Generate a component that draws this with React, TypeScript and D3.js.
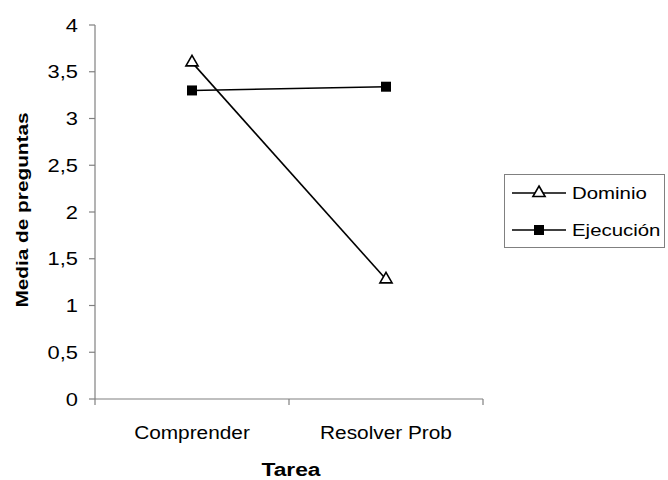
import React, { useEffect, useRef } from 'react';
import * as d3 from 'd3';

const categories = ['Comprender', 'Resolver Prob'];
const dominio = [3.6, 1.28];
const ejecucion = [3.3, 3.34];
const yTicks = [0, 0.5, 1, 1.5, 2, 2.5, 3, 3.5, 4];

const W = 668;
const H = 480;
const FONT = '"Liberation Sans", Arial, sans-serif';

const App: React.FC = () => {
  const svgRef = useRef<SVGSVGElement>(null);

  useEffect(() => {
    if (!svgRef.current) return;
    const svg = d3.select(svgRef.current);
    svg.selectAll('*').remove();

    const x = d3.scaleBand().domain(categories).range([95, 483]);
    const y = d3.scaleLinear().domain([0, 4]).range([399, 25]);
    const cx = (c: string) => (x(c) as number) + x.bandwidth() / 2;
    const axisColor = '#808080';

    // the source text looks stretched sideways, so scale x on each label
    const label = (tx: number, ty: number, txt: string, size: number, sx: number, anchor: string, bold = false, rot = 0) =>
      svg.append('text')
        .attr('transform', `translate(${tx},${ty}) rotate(${rot}) scale(${sx},1)`)
        .attr('text-anchor', anchor)
        .attr('font-family', FONT).attr('font-size', size)
        .attr('font-weight', bold ? 'bold' : 'normal')
        .attr('fill', '#000')
        .text(txt);

    // y axis
    svg.append('line')
      .attr('x1', 95).attr('x2', 95).attr('y1', y(4)).attr('y2', y(0))
      .attr('stroke', axisColor).attr('stroke-width', 1.2);
    yTicks.forEach(t => {
      svg.append('line')
        .attr('x1', 89).attr('x2', 95).attr('y1', y(t)).attr('y2', y(t))
        .attr('stroke', axisColor).attr('stroke-width', 1.2);
      label(78, y(t) + 6.5, String(t).replace('.', ','), 17.5, 1.25, 'end');
    });

    // x axis
    svg.append('line')
      .attr('x1', 95).attr('x2', 483).attr('y1', y(0)).attr('y2', y(0))
      .attr('stroke', axisColor).attr('stroke-width', 1.2);
    const bounds = [x(categories[0]) as number, ...categories.map(c => (x(c) as number) + x.bandwidth())];
    bounds.forEach(b => {
      svg.append('line')
        .attr('x1', b).attr('x2', b).attr('y1', y(0)).attr('y2', y(0) + 6)
        .attr('stroke', axisColor).attr('stroke-width', 1.2);
    });
    categories.forEach(c => label(cx(c), 439, c, 17.5, 1.19, 'middle'));

    // axis titles
    label(291, 476, 'Tarea', 19, 1.2, 'middle', true);
    label(28, 210, 'Media de preguntas', 16, 1.3, 'middle', true, -90);

    const line = d3.line<number>().x((_, i) => cx(categories[i])).y(d => y(d));
    const tri = d3.symbol().type(d3.symbolTriangle).size(64);
    const sq = d3.symbol().type(d3.symbolSquare).size(100);

    // series
    svg.append('path').attr('d', line(dominio)).attr('fill', 'none').attr('stroke', '#000').attr('stroke-width', 1.6);
    svg.append('path').attr('d', line(ejecucion)).attr('fill', 'none').attr('stroke', '#000').attr('stroke-width', 1.6);
    dominio.forEach((v, i) => {
      svg.append('path').attr('d', tri()).attr('transform', `translate(${cx(categories[i])},${y(v)})`)
        .attr('fill', '#fff').attr('stroke', '#000').attr('stroke-width', 1.6);
    });
    ejecucion.forEach((v, i) => {
      svg.append('path').attr('d', sq()).attr('transform', `translate(${cx(categories[i])},${y(v)})`)
        .attr('fill', '#000');
    });

    // legend
    svg.append('rect').attr('x', 504.5).attr('y', 174.5).attr('width', 160).attr('height', 73)
      .attr('fill', '#fff').attr('stroke', axisColor).attr('stroke-width', 1);
    const items = [
      { label: 'Dominio', sym: tri, fill: '#fff', yy: 193 },
      { label: 'Ejecución', sym: sq, fill: '#000', yy: 230 },
    ];
    items.forEach(it => {
      svg.append('line').attr('x1', 512).attr('x2', 566).attr('y1', it.yy).attr('y2', it.yy)
        .attr('stroke', '#000').attr('stroke-width', 1.6);
      svg.append('path').attr('d', it.sym()).attr('transform', `translate(539,${it.yy})`)
        .attr('fill', it.fill).attr('stroke', '#000').attr('stroke-width', it.fill === '#fff' ? 1.6 : 0);
      label(572, it.yy + 6, it.label, 17, 1.2, 'start');
    });
  }, []);

  return <svg ref={svgRef} width={W} height={H} style={{ display: 'block', position: 'absolute', left: 0, top: 0, background: '#fff' }} />;
};

export default App;
